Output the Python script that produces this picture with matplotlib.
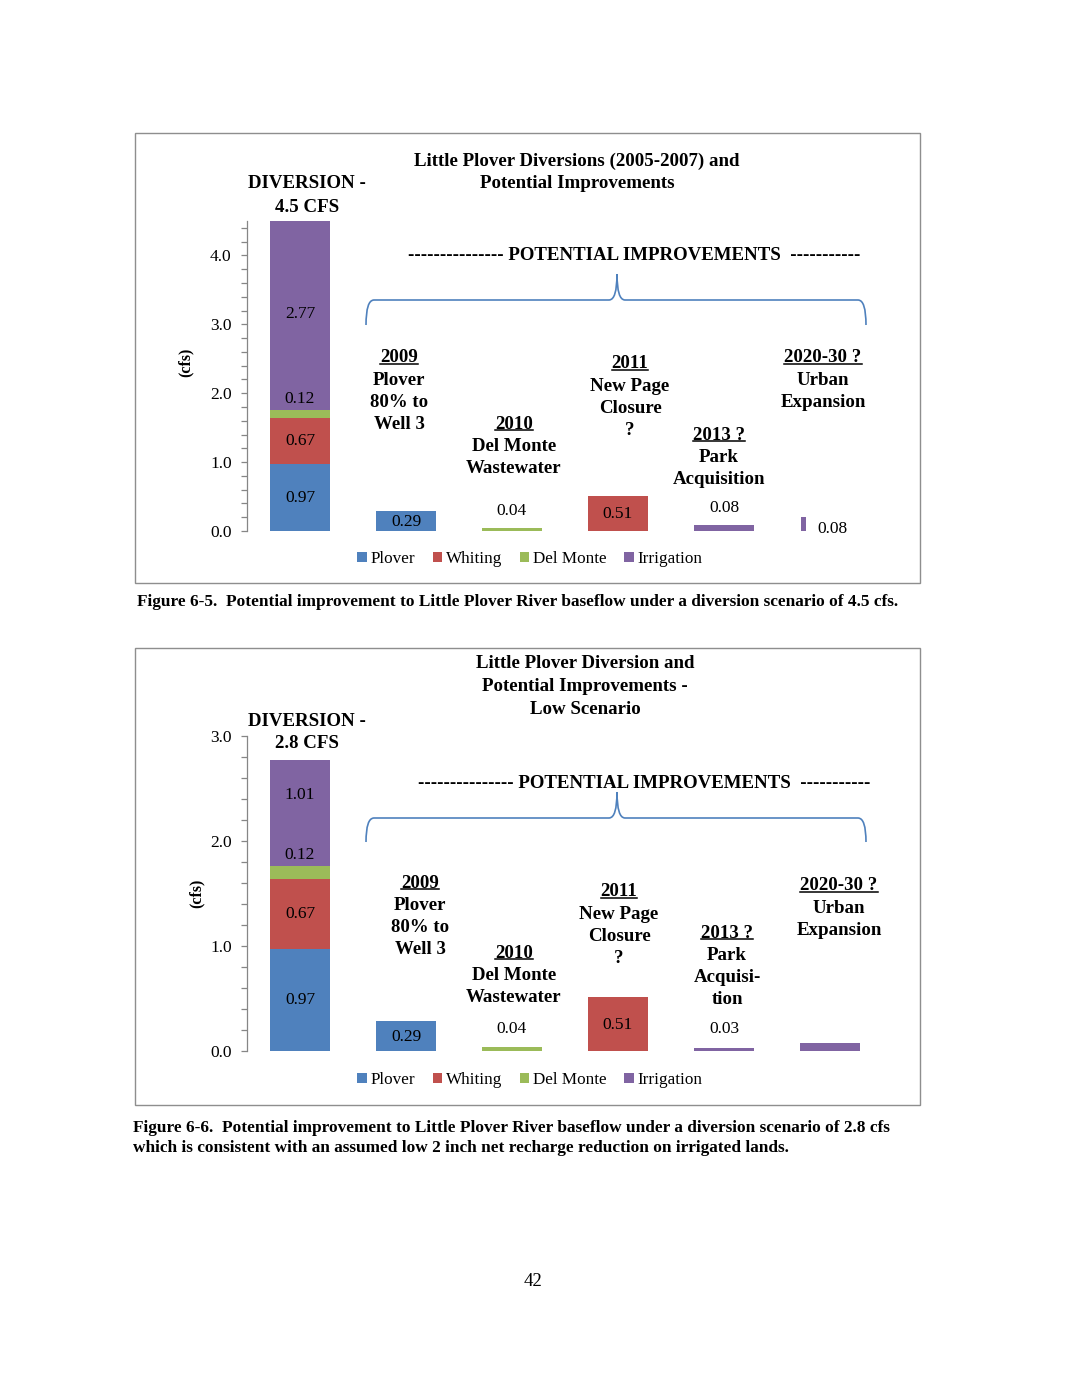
import matplotlib
matplotlib.use("Agg")
import matplotlib.pyplot as plt
from matplotlib.patches import Rectangle, Patch, PathPatch
from matplotlib.path import Path
from matplotlib.lines import Line2D

# page size in pixels (dpi 100)
W, H = 1066, 1380

# ---- data ----
categories = ["Diversion", "2009", "2010", "2011", "2013 ?", "2020-30 ?"]
series = ["Plover", "Whiting", "Del Monte", "Irrigation"]
colors = {"Plover": "#4F81BD", "Whiting": "#C0504D",
          "Del Monte": "#9BBB59", "Irrigation": "#8064A2"}

# stacked diversion bar (cfs)
div_45 = [0.97, 0.67, 0.12, 2.77]
div_28 = [0.97, 0.67, 0.12, 1.01]

# potential improvement bars, one per later category
imp_series = ["Plover", "Del Monte", "Whiting", "Irrigation", "Irrigation"]
imp_45 = [0.29, 0.04, 0.51, 0.08, 0.21]
imp_45_labels = ["0.29", "0.04", "0.51", "0.08", "0.08"]
imp_28 = [0.29, 0.04, 0.51, 0.03, 0.08]
imp_28_labels = ["0.29", "0.04", "0.51", "0.03", ""]

cat_text_45 = [["2009", "Plover", "80% to", "Well 3"],
               ["2010", "Del Monte", "Wastewater"],
               ["2011", "New Page", "Closure", "?"],
               ["2013 ?", "Park", "Acquisition"],
               ["2020-30 ?", "Urban", "Expansion"]]
cat_text_28 = [["2009", "Plover", "80% to", "Well 3"],
               ["2010", "Del Monte", "Wastewater"],
               ["2011", "New Page", "Closure", "?"],
               ["2013 ?", "Park", "Acquisi-", "tion"],
               ["2020-30 ?", "Urban", "Expansion"]]

plt.rcParams["font.family"] = ["Liberation Serif", "DejaVu Serif"]

fig = plt.figure(figsize=(W / 100, H / 100), dpi=100)
fig.patch.set_facecolor("white")
underlined = []


def ftext(x, y, s, **kw):
    kw.setdefault("ha", "center")
    kw.setdefault("va", "center")
    return fig.text(x / W, 1 - y / H, s, **kw)


def brace(x0, x1, xm, y_end, y_bar, y_peak, r=8):
    pts = [(x0, y_end), (x0, y_bar), (x0 + r, y_bar),
           (xm - r, y_bar),
           (xm, y_bar), (xm, y_peak),
           (xm, y_bar), (xm + r, y_bar),
           (x1 - r, y_bar),
           (x1, y_bar), (x1, y_end)]
    codes = [Path.MOVETO, Path.CURVE3, Path.CURVE3, Path.LINETO,
             Path.CURVE3, Path.CURVE3, Path.CURVE3, Path.CURVE3,
             Path.LINETO, Path.CURVE3, Path.CURVE3]
    pts = [(x / W, 1 - y / H) for x, y in pts]
    fig.add_artist(PathPatch(Path(pts, codes), transform=fig.transFigure,
                             fill=False, edgecolor="#4F81BD", lw=1.2))


def draw_chart(box, ax_px, ymax, div, div_text, top_label_shift, imp,
               imp_labels, narrow_last, title_lines, title_x, title_y, div_y,
               pot_pos, brace_y, cat_text, cat_pos, ylabel_pos, legend_y):
    # frame around the chart
    bx0, by0, bx1, by1 = box
    fig.add_artist(Rectangle((bx0 / W, 1 - by1 / H), (bx1 - bx0) / W,
                             (by1 - by0) / H, transform=fig.transFigure,
                             fill=False, edgecolor="#8e8e8e", lw=1.0))

    left, top, right, bottom = ax_px
    ax = fig.add_axes([left / W, 1 - bottom / H, (right - left) / W,
                       (bottom - top) / H])
    ax.set_xlim(-0.5, 5.5)
    ax.set_ylim(0, ymax)
    for s in ["top", "right", "bottom"]:
        ax.spines[s].set_visible(False)
    ax.spines["left"].set_color("#868686")
    ax.spines["left"].set_linewidth(0.9)
    ax.set_xticks([])
    ax.set_yticks([i * 1.0 for i in range(int(ymax) + 1)])
    ax.set_yticklabels([f"{i:.1f}" for i in range(int(ymax) + 1)])
    ax.set_yticks([i * 0.2 for i in range(int(ymax / 0.2) + 1)], minor=True)
    ax.tick_params(axis="y", which="both", direction="out", length=4,
                   width=0.9, color="#868686", labelsize=12.5, pad=7)
    ax.patch.set_alpha(0)

    # stacked diversion bar
    bottom_v = 0
    for s, v in zip(series, div):
        ax.bar(0, v, bottom=bottom_v, width=0.57, color=colors[s])
        if s == "Del Monte":
            ax.annotate(f"{v:.2f}", (0, bottom_v + v), xytext=(0, 2),
                        textcoords="offset points", ha="center", va="bottom",
                        fontsize=12.5)
        else:
            shift = top_label_shift if s == "Irrigation" else 0
            ax.text(0, bottom_v + v / 2 + shift, f"{v:.2f}", ha="center",
                    va="center", fontsize=12.5)
        bottom_v += v

    # improvement bars
    for i, (s, v, lab) in enumerate(zip(imp_series, imp, imp_labels)):
        x = i + 1
        if narrow_last and i == len(imp) - 1:
            ax.bar(x - 0.25, v, width=0.04, color=colors[s])
            ax.text(x + 0.02, 0.03, lab, ha="center", va="center",
                    fontsize=12.5)
            continue
        ax.bar(x, v, width=0.57, color=colors[s])
        if not lab:
            continue
        if v > 0.2:
            ax.text(x, v / 2 - 0.01, lab, ha="center", va="center",
                    fontsize=12.5)
        else:
            ax.annotate(lab, (x, v), xytext=(0, 7 if v > 0.035 else 8),
                        textcoords="offset points", ha="center",
                        va="bottom", fontsize=12.5)

    # titles and annotations
    for k, line in enumerate(title_lines):
        ftext(title_x, title_y + 22.5 * k, line, fontsize=13.6,
              fontweight="bold")
    ftext(307, div_y, "DIVERSION -", fontsize=13.6, fontweight="bold")
    ftext(307, div_y + 23, div_text, fontsize=13.6, fontweight="bold")
    ftext(pot_pos[0], pot_pos[1],
          "--------------- POTENTIAL IMPROVEMENTS  -----------",
          fontsize=13.6, fontweight="bold")
    brace(366, 866, 617, brace_y[0], brace_y[1], brace_y[2])
    for lines, (cx, cy) in zip(cat_text, cat_pos):
        for k, line in enumerate(lines):
            t = ftext(cx, cy + 22.3 * k, line, fontsize=13.6,
                      fontweight="bold")
            if k == 0:
                underlined.append(t)
    ftext(ylabel_pos[0], ylabel_pos[1], "(cfs)", fontsize=11.5,
          fontweight="bold", rotation=90)

    handles = [Patch(facecolor=colors[s], edgecolor="none") for s in series]
    fig.legend(handles, series, loc="center",
               bbox_to_anchor=(530 / W, 1 - (legend_y + 1) / H), ncol=4,
               frameon=False, fontsize=12.3, handlelength=0.55,
               handleheight=0.55, handletextpad=0.25, columnspacing=1.0,
               borderpad=0)
    return ax


draw_chart(box=(135, 133, 920, 583), ax_px=(247, 221, 883, 531), ymax=4.5,
           div=div_45, div_text="4.5 CFS", top_label_shift=0.0,
           imp=imp_45, imp_labels=imp_45_labels, narrow_last=True,
           title_lines=["Little Plover Diversions (2005-2007) and",
                        "Potential Improvements"],
           title_x=577, title_y=161, div_y=184, pot_pos=(634, 256),
           brace_y=(325, 300, 274),
           cat_text=cat_text_45,
           cat_pos=[(399, 358), (514, 424), (630, 364), (719, 435),
                    (823, 358)],
           ylabel_pos=(186, 362), legend_y=558)

draw_chart(box=(135, 648, 920, 1105), ax_px=(247, 736, 883, 1051), ymax=3.0,
           div=div_28, div_text="2.8 CFS", top_label_shift=0.17,
           imp=imp_28, imp_labels=imp_28_labels, narrow_last=False,
           title_lines=["Little Plover Diversion and",
                        "Potential Improvements -", "Low Scenario"],
           title_x=585, title_y=664, div_y=721, pot_pos=(644, 784),
           brace_y=(842, 818, 792),
           cat_text=cat_text_28,
           cat_pos=[(420, 883), (514, 953), (619, 892), (727, 933),
                    (839, 886)],
           ylabel_pos=(197, 893), legend_y=1079)

# captions and page number
ftext(137, 602, "Figure 6-5.  Potential improvement to Little Plover River "
      "baseflow under a diversion scenario of 4.5 cfs.", ha="left",
      fontsize=12.4, fontweight="bold")
ftext(133, 1128, "Figure 6-6.  Potential improvement to Little Plover River "
      "baseflow under a diversion scenario of 2.8 cfs", ha="left",
      fontsize=12.4, fontweight="bold")
ftext(133, 1148, "which is consistent with an assumed low 2 inch net recharge "
      "reduction on irrigated lands.", ha="left", fontsize=12.4,
      fontweight="bold")
ftext(533, 1281, "42", fontsize=13.5)

# underline the year lines
renderer = fig.canvas.get_renderer()
for t in underlined:
    bb = t.get_window_extent(renderer)
    y = (bb.y0 + 3) / H
    fig.add_artist(Line2D([bb.x0 / W, bb.x1 / W], [y, y],
                          transform=fig.transFigure, color="black", lw=1.1))

fig.savefig("out.png", dpi=100, facecolor="white")
